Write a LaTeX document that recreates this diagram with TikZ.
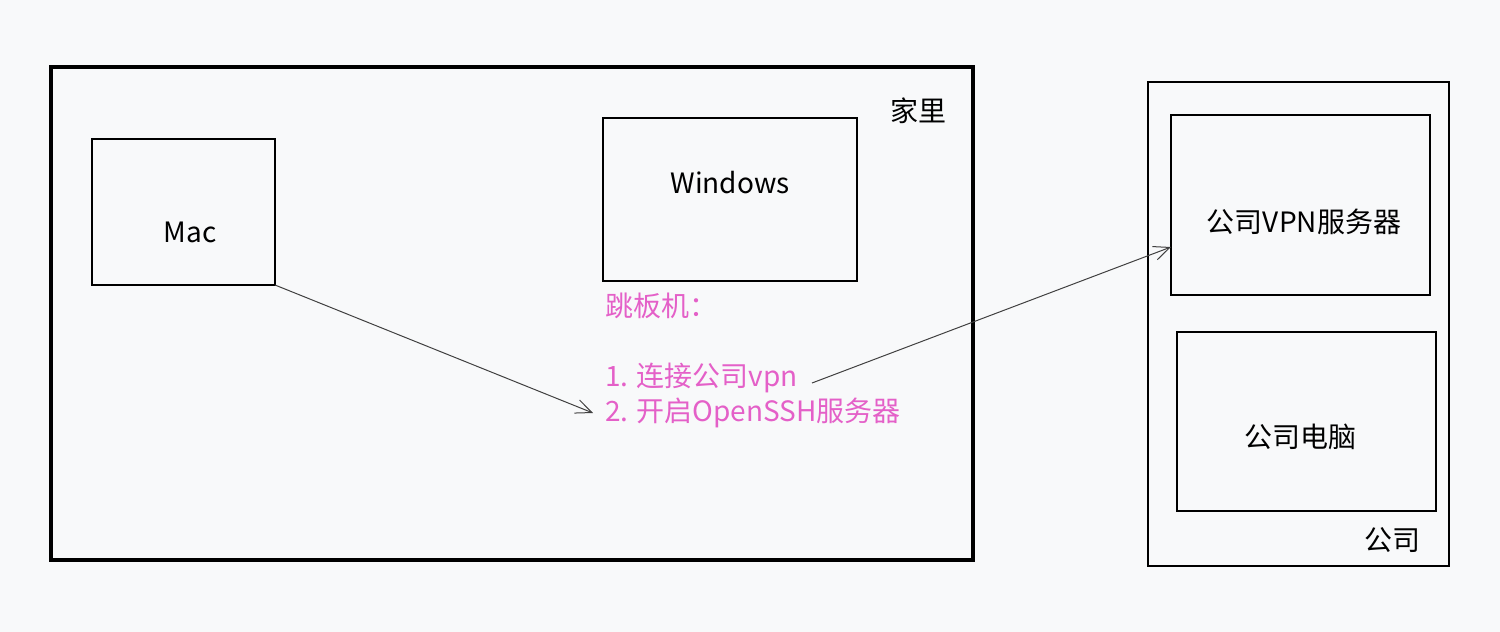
\documentclass[tikz,border=0pt]{standalone}
\usepackage{fontspec}
\usetikzlibrary{arrows.meta}
\setmainfont{Noto Sans CJK SC}
\definecolor{bg}{RGB}{248,249,250}
\definecolor{pinkt}{RGB}{228,96,200}
\begin{document}
\begin{tikzpicture}[x=0.5pt,y=-0.5pt,
  box/.style={draw,line width=0.9pt},
  lbl/.style={font=\fontsize{14}{17}\selectfont},
  conn/.style={draw=black!75,line width=0.5pt,-{Straight Barb[length=8pt,width=7pt]}}]
\fill[bg] (0,0) rectangle (1500,632);
\useasboundingbox (0,0) rectangle (1500,632);
\draw[line width=2pt] (51,67) rectangle (973,560);
\node[lbl] (home) at (918,111) {家里};
\draw[box] (92,139) rectangle (275,285);
\node[lbl] (mac) at (190,232) {Mac};
\draw[box] (603,118) rectangle (857,281);
\node[lbl] (win) at (730,183) {Windows};
\node[lbl,text=pinkt,anchor=west] (jump) at (598,306) {跳板机：};
\node[lbl,text=pinkt,anchor=west] (l1) at (598,378) {1. 连接公司vpn};
\node[lbl,text=pinkt,anchor=west] (l2) at (598,413) {2. 开启OpenSSH服务器};
\draw[line width=0.8pt] (1148,82) rectangle (1449,566);
\node[lbl] (co) at (1392,540) {公司};
\draw[line width=1.4pt] (1171,115) rectangle (1430,295);
\node[lbl] (vpn) at (1304,222) {公司VPN服务器};
\draw[box] (1177,332) rectangle (1436,511);
\node[lbl] (pc) at (1300,437) {公司电脑};
\coordinate (a1) at (275,285);
\coordinate (a2) at (593,413);
\coordinate (b1) at (812,383);
\coordinate (b2) at (1171,247);
\draw[conn] (a1) -- (a2);
\draw[conn] (b1) -- (b2);
\end{tikzpicture}
\end{document}
